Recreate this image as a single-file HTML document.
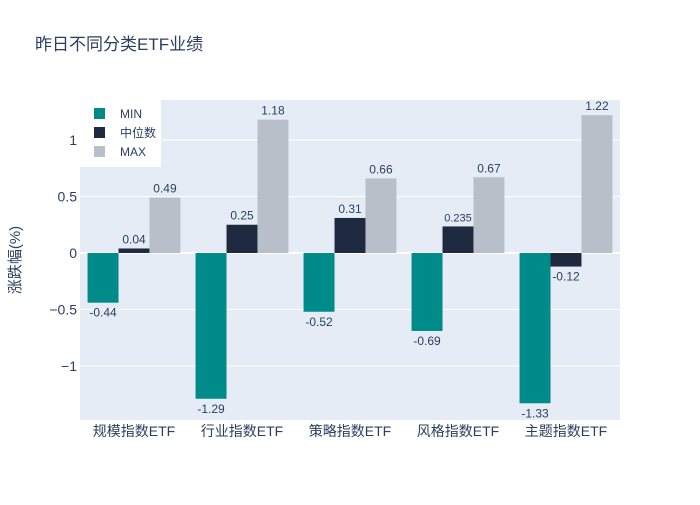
<!DOCTYPE html>
<html><head><meta charset="utf-8"><style>
body{margin:0;background:#fff;}
svg{font-family:"Liberation Sans","Noto Sans CJK SC",sans-serif;}
</style></head><body>
<svg id="c" width="700" height="500" xmlns="http://www.w3.org/2000/svg">
<rect width="700" height="500" fill="#fff"/>
<text x="35" y="50" font-size="17" fill="#2a3f5f">昨日不同分类ETF业绩</text>
<rect x="80" y="100" width="540" height="320" fill="#e5ecf6"/>
<g id="grid"></g><g id="bars"></g><g id="labels"></g>
<text transform="translate(20,260) rotate(-90)" text-anchor="middle" font-size="15" fill="#2a3f5f">涨跌幅(%)</text>
<g id="legend"></g>
</svg>
<script>
const categories=["规模指数ETF","行业指数ETF","策略指数ETF","风格指数ETF","主题指数ETF"];
const seriesNames=["MIN","中位数","MAX"];
const minVals=[-0.44,-1.29,-0.52,-0.69,-1.33];
const medVals=[0.04,0.25,0.31,0.235,-0.12];
const maxVals=[0.49,1.18,0.66,0.67,1.22];
const yTicks=[-1,-0.5,0,0.5,1];
const yTickLabels=["−1","−0.5","0","0.5","1"];
const colors=["#008b8b","#1f2a40","#b8bfc8"];
const NS="http://www.w3.org/2000/svg";
const X0=80,W=540,Y0=100,H=320,yMin=-1.478,yMax=1.354;
const y=v=>Y0+(yMax-v)/(yMax-yMin)*H;
const bw=W/categories.length;
const barW=bw*0.86/3;
function mk(tag,attrs,parent){const e=document.createElementNS(NS,tag);for(const k in attrs)e.setAttribute(k,attrs[k]);document.getElementById(parent).appendChild(e);return e;}
yTicks.forEach((t,i)=>{
  const l=mk('line',{x1:X0,x2:X0+W,y1:y(t),y2:y(t),stroke:'#fff','stroke-width':t===0?2:1},'grid');
  
  
  const tx=mk('text',{x:X0-3,y:y(t)+5,'text-anchor':'end','font-size':14,fill:'#2a3f5f'},'grid');
  tx.textContent=yTickLabels[i];
  
  
});
const series=[minVals,medVals,maxVals];
categories.forEach((c,i)=>{
  const cx=X0+bw*(i+0.5);
  const t=mk('text',{x:cx,y:436,'text-anchor':'middle','font-size':14,fill:'#2a3f5f'},'labels');
  t.textContent=c;
  
  
  series.forEach((s,j)=>{
    const v=s[i];
    const bx=cx-1.5*barW+j*barW;
    const top=Math.min(y(v),y(0)),h=Math.abs(y(v)-y(0));
    const r=mk('rect',{x:bx,y:top,width:barW,height:h,fill:colors[j]},'bars');
    
    
    const small=j===1&&i===3;
    const lt=mk('text',{x:bx+barW/2,y:v>=0?y(v)-5:y(v)+14,'text-anchor':'middle','font-size':small?11:12,fill:'#2a3f5f'},'labels');
    lt.textContent=String(v).replace('-','-');
    
    
  });
});
const bg=mk('rect',{x:80,y:100,width:81,height:67,fill:'#fff'},'legend');


seriesNames.forEach((n,j)=>{
  const sw=mk('rect',{x:94,y:108+j*19,width:11,height:11,fill:colors[j]},'legend');
  
  
  const t=mk('text',{x:120,y:118+j*19,'font-size':12,fill:'#2a3f5f'},'legend');
  t.textContent=n;
  
  
});
</script>
</body></html>
